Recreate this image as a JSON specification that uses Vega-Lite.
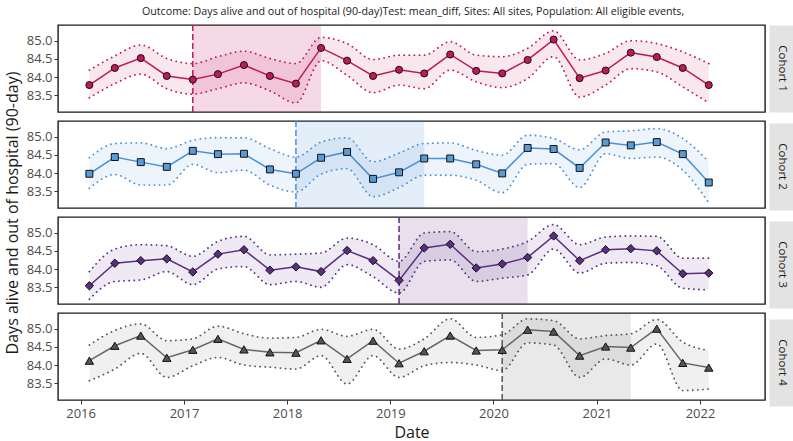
{
  "$schema": "https://vega.github.io/schema/vega-lite/v6.json",
  "padding": {"left": 3, "top": 5, "right": 0, "bottom": 0},
  "background": "white",
  "title": {
    "text": "Outcome: Days alive and out of hospital (90-day)Test: mean_diff, Sites: All sites, Population: All eligible events,",
    "anchor": "middle",
    "dx": 14,
    "fontSize": 10.7,
    "fontWeight": "normal",
    "color": "#1a1a1a",
    "offset": 6
  },
  "datasets": {
    "series": [
      {"cohort": "Cohort 1", "date": "2016-02-01", "est": 83.78, "lo": 83.43, "hi": 84.19},
      {"cohort": "Cohort 1", "date": "2016-05-01", "est": 84.25, "lo": 83.82, "hi": 84.58},
      {"cohort": "Cohort 1", "date": "2016-08-01", "est": 84.52, "lo": 84.08, "hi": 84.88},
      {"cohort": "Cohort 1", "date": "2016-11-01", "est": 84.03, "lo": 83.68, "hi": 84.51},
      {"cohort": "Cohort 1", "date": "2017-02-01", "est": 83.93, "lo": 83.53, "hi": 84.37},
      {"cohort": "Cohort 1", "date": "2017-05-01", "est": 84.08, "lo": 83.68, "hi": 84.56},
      {"cohort": "Cohort 1", "date": "2017-08-01", "est": 84.33, "lo": 83.84, "hi": 84.71},
      {"cohort": "Cohort 1", "date": "2017-11-01", "est": 84.03, "lo": 83.62, "hi": 84.51},
      {"cohort": "Cohort 1", "date": "2018-02-01", "est": 83.82, "lo": 83.29, "hi": 84.37},
      {"cohort": "Cohort 1", "date": "2018-05-01", "est": 84.80, "lo": 84.45, "hi": 85.09},
      {"cohort": "Cohort 1", "date": "2018-08-01", "est": 84.45, "lo": 84.05, "hi": 84.92},
      {"cohort": "Cohort 1", "date": "2018-11-01", "est": 84.03, "lo": 83.57, "hi": 84.48},
      {"cohort": "Cohort 1", "date": "2019-02-01", "est": 84.20, "lo": 83.78, "hi": 84.60},
      {"cohort": "Cohort 1", "date": "2019-05-01", "est": 84.10, "lo": 83.68, "hi": 84.60},
      {"cohort": "Cohort 1", "date": "2019-08-01", "est": 84.62, "lo": 84.19, "hi": 84.97},
      {"cohort": "Cohort 1", "date": "2019-11-01", "est": 84.17, "lo": 83.87, "hi": 84.60},
      {"cohort": "Cohort 1", "date": "2020-02-01", "est": 84.10, "lo": 83.71, "hi": 84.56},
      {"cohort": "Cohort 1", "date": "2020-05-01", "est": 84.47, "lo": 83.96, "hi": 84.79},
      {"cohort": "Cohort 1", "date": "2020-08-01", "est": 85.03, "lo": 84.56, "hi": 85.27},
      {"cohort": "Cohort 1", "date": "2020-11-01", "est": 83.97, "lo": 83.45, "hi": 84.47},
      {"cohort": "Cohort 1", "date": "2021-02-01", "est": 84.18, "lo": 83.78, "hi": 84.65},
      {"cohort": "Cohort 1", "date": "2021-05-01", "est": 84.67, "lo": 84.23, "hi": 85.00},
      {"cohort": "Cohort 1", "date": "2021-08-01", "est": 84.55, "lo": 84.14, "hi": 84.92},
      {"cohort": "Cohort 1", "date": "2021-11-01", "est": 84.25, "lo": 83.73, "hi": 84.69},
      {"cohort": "Cohort 1", "date": "2022-02-01", "est": 83.78, "lo": 83.29, "hi": 84.37},
      {"cohort": "Cohort 2", "date": "2016-02-01", "est": 83.98, "lo": 83.58, "hi": 84.42},
      {"cohort": "Cohort 2", "date": "2016-05-01", "est": 84.44, "lo": 83.96, "hi": 84.81},
      {"cohort": "Cohort 2", "date": "2016-08-01", "est": 84.30, "lo": 83.67, "hi": 84.83},
      {"cohort": "Cohort 2", "date": "2016-11-01", "est": 84.17, "lo": 83.67, "hi": 84.67},
      {"cohort": "Cohort 2", "date": "2017-02-01", "est": 84.61, "lo": 84.24, "hi": 84.90},
      {"cohort": "Cohort 2", "date": "2017-05-01", "est": 84.52, "lo": 84.01, "hi": 84.97},
      {"cohort": "Cohort 2", "date": "2017-08-01", "est": 84.53, "lo": 84.08, "hi": 84.97},
      {"cohort": "Cohort 2", "date": "2017-11-01", "est": 84.10, "lo": 83.67, "hi": 84.67},
      {"cohort": "Cohort 2", "date": "2018-02-01", "est": 83.98, "lo": 83.48, "hi": 84.44},
      {"cohort": "Cohort 2", "date": "2018-05-01", "est": 84.42, "lo": 83.97, "hi": 84.85},
      {"cohort": "Cohort 2", "date": "2018-08-01", "est": 84.58, "lo": 84.12, "hi": 84.97},
      {"cohort": "Cohort 2", "date": "2018-11-01", "est": 83.84, "lo": 83.35, "hi": 84.31},
      {"cohort": "Cohort 2", "date": "2019-02-01", "est": 84.02, "lo": 83.60, "hi": 84.55},
      {"cohort": "Cohort 2", "date": "2019-05-01", "est": 84.40, "lo": 83.94, "hi": 84.81},
      {"cohort": "Cohort 2", "date": "2019-08-01", "est": 84.40, "lo": 83.94, "hi": 84.83},
      {"cohort": "Cohort 2", "date": "2019-11-01", "est": 84.24, "lo": 83.80, "hi": 84.62},
      {"cohort": "Cohort 2", "date": "2020-02-01", "est": 83.99, "lo": 83.46, "hi": 84.49},
      {"cohort": "Cohort 2", "date": "2020-05-01", "est": 84.69, "lo": 84.24, "hi": 85.04},
      {"cohort": "Cohort 2", "date": "2020-08-01", "est": 84.66, "lo": 84.26, "hi": 84.95},
      {"cohort": "Cohort 2", "date": "2020-11-01", "est": 84.14, "lo": 83.60, "hi": 84.64},
      {"cohort": "Cohort 2", "date": "2021-02-01", "est": 84.84, "lo": 84.53, "hi": 85.13},
      {"cohort": "Cohort 2", "date": "2021-05-01", "est": 84.76, "lo": 84.40, "hi": 85.16},
      {"cohort": "Cohort 2", "date": "2021-08-01", "est": 84.85, "lo": 84.44, "hi": 85.22},
      {"cohort": "Cohort 2", "date": "2021-11-01", "est": 84.52, "lo": 84.08, "hi": 84.95},
      {"cohort": "Cohort 2", "date": "2022-02-01", "est": 83.74, "lo": 83.18, "hi": 84.31},
      {"cohort": "Cohort 3", "date": "2016-02-01", "est": 83.54, "lo": 83.17, "hi": 83.93},
      {"cohort": "Cohort 3", "date": "2016-05-01", "est": 84.16, "lo": 83.66, "hi": 84.55},
      {"cohort": "Cohort 3", "date": "2016-08-01", "est": 84.23, "lo": 83.70, "hi": 84.67},
      {"cohort": "Cohort 3", "date": "2016-11-01", "est": 84.28, "lo": 83.93, "hi": 84.64},
      {"cohort": "Cohort 3", "date": "2017-02-01", "est": 83.92, "lo": 83.57, "hi": 84.35},
      {"cohort": "Cohort 3", "date": "2017-05-01", "est": 84.41, "lo": 84.00, "hi": 84.76},
      {"cohort": "Cohort 3", "date": "2017-08-01", "est": 84.53, "lo": 84.07, "hi": 84.90},
      {"cohort": "Cohort 3", "date": "2017-11-01", "est": 83.97, "lo": 83.57, "hi": 84.39},
      {"cohort": "Cohort 3", "date": "2018-02-01", "est": 84.06, "lo": 83.66, "hi": 84.41},
      {"cohort": "Cohort 3", "date": "2018-05-01", "est": 83.93, "lo": 83.50, "hi": 84.44},
      {"cohort": "Cohort 3", "date": "2018-08-01", "est": 84.51, "lo": 84.12, "hi": 84.85},
      {"cohort": "Cohort 3", "date": "2018-11-01", "est": 84.23, "lo": 83.79, "hi": 84.67},
      {"cohort": "Cohort 3", "date": "2019-02-01", "est": 83.69, "lo": 83.34, "hi": 84.21},
      {"cohort": "Cohort 3", "date": "2019-05-01", "est": 84.58, "lo": 84.21, "hi": 84.99},
      {"cohort": "Cohort 3", "date": "2019-08-01", "est": 84.68, "lo": 84.25, "hi": 85.03},
      {"cohort": "Cohort 3", "date": "2019-11-01", "est": 84.03, "lo": 83.66, "hi": 84.48},
      {"cohort": "Cohort 3", "date": "2020-02-01", "est": 84.14, "lo": 83.75, "hi": 84.55},
      {"cohort": "Cohort 3", "date": "2020-05-01", "est": 84.32, "lo": 83.84, "hi": 84.76},
      {"cohort": "Cohort 3", "date": "2020-08-01", "est": 84.91, "lo": 84.55, "hi": 85.22},
      {"cohort": "Cohort 3", "date": "2020-11-01", "est": 84.23, "lo": 83.89, "hi": 84.67},
      {"cohort": "Cohort 3", "date": "2021-02-01", "est": 84.53, "lo": 84.16, "hi": 84.88},
      {"cohort": "Cohort 3", "date": "2021-05-01", "est": 84.56, "lo": 84.18, "hi": 84.91},
      {"cohort": "Cohort 3", "date": "2021-08-01", "est": 84.50, "lo": 84.09, "hi": 84.90},
      {"cohort": "Cohort 3", "date": "2021-11-01", "est": 83.87, "lo": 83.47, "hi": 84.30},
      {"cohort": "Cohort 3", "date": "2022-02-01", "est": 83.89, "lo": 83.43, "hi": 84.30},
      {"cohort": "Cohort 4", "date": "2016-02-01", "est": 84.12, "lo": 83.57, "hi": 84.55},
      {"cohort": "Cohort 4", "date": "2016-05-01", "est": 84.53, "lo": 83.89, "hi": 84.95},
      {"cohort": "Cohort 4", "date": "2016-08-01", "est": 84.81, "lo": 84.32, "hi": 85.13},
      {"cohort": "Cohort 4", "date": "2016-11-01", "est": 84.20, "lo": 83.66, "hi": 84.67},
      {"cohort": "Cohort 4", "date": "2017-02-01", "est": 84.42, "lo": 83.98, "hi": 84.72},
      {"cohort": "Cohort 4", "date": "2017-05-01", "est": 84.72, "lo": 84.21, "hi": 85.07},
      {"cohort": "Cohort 4", "date": "2017-08-01", "est": 84.43, "lo": 84.00, "hi": 84.86},
      {"cohort": "Cohort 4", "date": "2017-11-01", "est": 84.35, "lo": 83.94, "hi": 84.74},
      {"cohort": "Cohort 4", "date": "2018-02-01", "est": 84.34, "lo": 83.89, "hi": 84.76},
      {"cohort": "Cohort 4", "date": "2018-05-01", "est": 84.68, "lo": 84.26, "hi": 84.98},
      {"cohort": "Cohort 4", "date": "2018-08-01", "est": 84.17, "lo": 83.48, "hi": 84.79},
      {"cohort": "Cohort 4", "date": "2018-11-01", "est": 84.67, "lo": 84.26, "hi": 84.98},
      {"cohort": "Cohort 4", "date": "2019-02-01", "est": 84.05, "lo": 83.66, "hi": 84.44},
      {"cohort": "Cohort 4", "date": "2019-05-01", "est": 84.38, "lo": 83.98, "hi": 84.72},
      {"cohort": "Cohort 4", "date": "2019-08-01", "est": 84.81, "lo": 84.07, "hi": 85.27},
      {"cohort": "Cohort 4", "date": "2019-11-01", "est": 84.40, "lo": 84.00, "hi": 84.76},
      {"cohort": "Cohort 4", "date": "2020-02-01", "est": 84.42, "lo": 83.85, "hi": 84.83},
      {"cohort": "Cohort 4", "date": "2020-05-01", "est": 84.97, "lo": 84.61, "hi": 85.27},
      {"cohort": "Cohort 4", "date": "2020-08-01", "est": 84.92, "lo": 84.55, "hi": 85.22},
      {"cohort": "Cohort 4", "date": "2020-11-01", "est": 84.26, "lo": 83.66, "hi": 84.72},
      {"cohort": "Cohort 4", "date": "2021-02-01", "est": 84.51, "lo": 84.17, "hi": 84.81},
      {"cohort": "Cohort 4", "date": "2021-05-01", "est": 84.48, "lo": 84.00, "hi": 84.86},
      {"cohort": "Cohort 4", "date": "2021-08-01", "est": 85.00, "lo": 84.58, "hi": 85.25},
      {"cohort": "Cohort 4", "date": "2021-11-01", "est": 84.06, "lo": 83.30, "hi": 84.63},
      {"cohort": "Cohort 4", "date": "2022-02-01", "est": 83.93, "lo": 83.34, "hi": 84.40}
    ],
    "periods": [
      {"cohort": "Cohort 1", "start": "2017-02-01", "end": "2018-05-01"},
      {"cohort": "Cohort 2", "start": "2018-02-01", "end": "2019-05-01"},
      {"cohort": "Cohort 3", "start": "2019-02-01", "end": "2020-05-01"},
      {"cohort": "Cohort 4", "start": "2020-02-01", "end": "2021-05-01"}
    ]
  },
  "hconcat": [
    {
      "vconcat": [
        {
          "width": 707, "height": 87,
          "data": {"name": "series"},
          "transform": [{"filter": "datum.cohort === 'Cohort 1'"}],
          "encoding": {
            "x": {"field": "date", "type": "temporal", "axis": null,
                  "scale": {"domain": [{"year": 2015, "month": 10, "date": 13}, {"year": 2022, "month": 8, "date": 19}], "nice": false}}
          },
          "layer": [
            {"data": {"name": "periods"}, "transform": [{"filter": "datum.cohort === 'Cohort 1'"}],
             "mark": {"type": "rect", "color": "#c2185b", "opacity": 0.16},
             "encoding": {"x": {"field": "start", "type": "temporal"}, "x2": {"field": "end"}}},
            {"mark": {"type": "area", "color": "#c2185b", "opacity": 0.1, "interpolate": "monotone"},
             "encoding": {
               "y": {"field": "lo", "type": "quantitative", "scale": {"domain": [83.04, 85.43], "nice": false, "zero": false},
                     "axis": {"values": [83.5, 84, 84.5, 85], "tickCount": 10, "format": ".1f", "labelOverlap": false, "title": null}},
               "y2": {"field": "hi"}}},
            {"mark": {"type": "line", "color": "#c2185b", "strokeWidth": 1.8, "strokeDash": [0.1, 5], "strokeCap": "round", "interpolate": "monotone"},
             "encoding": {"y": {"field": "hi", "type": "quantitative"}}},
            {"mark": {"type": "line", "color": "#c2185b", "strokeWidth": 1.8, "strokeDash": [0.1, 5], "strokeCap": "round", "interpolate": "monotone"},
             "encoding": {"y": {"field": "lo", "type": "quantitative"}}},
            {"data": {"name": "periods"}, "transform": [{"filter": "datum.cohort === 'Cohort 1'"}],
             "mark": {"type": "rule", "color": "#c2185b", "strokeWidth": 1.5, "strokeDash": [6, 3]},
             "encoding": {"x": {"field": "start", "type": "temporal"}}},
            {"mark": {"type": "line", "color": "#c2185b", "strokeWidth": 1.5},
             "encoding": {"y": {"field": "est", "type": "quantitative"}}},
            {"mark": {"type": "point", "shape": "circle", "filled": true, "size": 50, "fill": "#c2185b", "stroke": "#111111", "strokeWidth": 1, "opacity": 1},
             "encoding": {"y": {"field": "est", "type": "quantitative"}}}
          ]
        },
        {
          "width": 707, "height": 87,
          "data": {"name": "series"},
          "transform": [{"filter": "datum.cohort === 'Cohort 2'"}],
          "encoding": {
            "x": {"field": "date", "type": "temporal", "axis": null,
                  "scale": {"domain": [{"year": 2015, "month": 10, "date": 13}, {"year": 2022, "month": 8, "date": 19}], "nice": false}}
          },
          "layer": [
            {"data": {"name": "periods"}, "transform": [{"filter": "datum.cohort === 'Cohort 2'"}],
             "mark": {"type": "rect", "color": "#4a90d9", "opacity": 0.15},
             "encoding": {"x": {"field": "start", "type": "temporal"}, "x2": {"field": "end"}}},
            {"mark": {"type": "area", "color": "#4a90d9", "opacity": 0.1, "interpolate": "monotone"},
             "encoding": {
               "y": {"field": "lo", "type": "quantitative", "scale": {"domain": [83.04, 85.43], "nice": false, "zero": false},
                     "axis": {"values": [83.5, 84, 84.5, 85], "tickCount": 10, "format": ".1f", "labelOverlap": false, "title": "Days alive and out of hospital (90-day)", "titleY": 91.5, "titlePadding": 6}},
               "y2": {"field": "hi"}}},
            {"mark": {"type": "line", "color": "#4a90d9", "strokeWidth": 1.8, "strokeDash": [0.1, 5], "strokeCap": "round", "interpolate": "monotone"},
             "encoding": {"y": {"field": "hi", "type": "quantitative"}}},
            {"mark": {"type": "line", "color": "#4a90d9", "strokeWidth": 1.8, "strokeDash": [0.1, 5], "strokeCap": "round", "interpolate": "monotone"},
             "encoding": {"y": {"field": "lo", "type": "quantitative"}}},
            {"data": {"name": "periods"}, "transform": [{"filter": "datum.cohort === 'Cohort 2'"}],
             "mark": {"type": "rule", "color": "#4a90d9", "strokeWidth": 1.5, "strokeDash": [6, 3]},
             "encoding": {"x": {"field": "start", "type": "temporal"}}},
            {"mark": {"type": "line", "color": "#4a90d9", "strokeWidth": 1.5},
             "encoding": {"y": {"field": "est", "type": "quantitative"}}},
            {"mark": {"type": "point", "shape": "square", "filled": true, "size": 48, "fill": "#5b9bd5", "stroke": "#111111", "strokeWidth": 1, "opacity": 1},
             "encoding": {"y": {"field": "est", "type": "quantitative"}}}
          ]
        },
        {
          "width": 707, "height": 87,
          "data": {"name": "series"},
          "transform": [{"filter": "datum.cohort === 'Cohort 3'"}],
          "encoding": {
            "x": {"field": "date", "type": "temporal", "axis": null,
                  "scale": {"domain": [{"year": 2015, "month": 10, "date": 13}, {"year": 2022, "month": 8, "date": 19}], "nice": false}}
          },
          "layer": [
            {"data": {"name": "periods"}, "transform": [{"filter": "datum.cohort === 'Cohort 3'"}],
             "mark": {"type": "rect", "color": "#5b2c83", "opacity": 0.14},
             "encoding": {"x": {"field": "start", "type": "temporal"}, "x2": {"field": "end"}}},
            {"mark": {"type": "area", "color": "#5b2c83", "opacity": 0.1, "interpolate": "monotone"},
             "encoding": {
               "y": {"field": "lo", "type": "quantitative", "scale": {"domain": [83.04, 85.43], "nice": false, "zero": false},
                     "axis": {"values": [83.5, 84, 84.5, 85], "tickCount": 10, "format": ".1f", "labelOverlap": false, "title": null}},
               "y2": {"field": "hi"}}},
            {"mark": {"type": "line", "color": "#5b2c83", "strokeWidth": 1.8, "strokeDash": [0.1, 5], "strokeCap": "round", "interpolate": "monotone"},
             "encoding": {"y": {"field": "hi", "type": "quantitative"}}},
            {"mark": {"type": "line", "color": "#5b2c83", "strokeWidth": 1.8, "strokeDash": [0.1, 5], "strokeCap": "round", "interpolate": "monotone"},
             "encoding": {"y": {"field": "lo", "type": "quantitative"}}},
            {"data": {"name": "periods"}, "transform": [{"filter": "datum.cohort === 'Cohort 3'"}],
             "mark": {"type": "rule", "color": "#5b2c83", "strokeWidth": 1.5, "strokeDash": [6, 3]},
             "encoding": {"x": {"field": "start", "type": "temporal"}}},
            {"mark": {"type": "line", "color": "#5b2c83", "strokeWidth": 1.5},
             "encoding": {"y": {"field": "est", "type": "quantitative"}}},
            {"mark": {"type": "point", "shape": "diamond", "filled": true, "size": 70, "fill": "#5b2c83", "stroke": "#111111", "strokeWidth": 1, "opacity": 1},
             "encoding": {"y": {"field": "est", "type": "quantitative"}}}
          ]
        },
        {
          "width": 707, "height": 87,
          "data": {"name": "series"},
          "transform": [{"filter": "datum.cohort === 'Cohort 4'"}],
          "encoding": {
            "x": {"field": "date", "type": "temporal",
                  "axis": {"format": "%Y", "tickCount": {"interval": "year", "step": 1}, "title": "Date", "titlePadding": 4, "labelPadding": 3},
                  "scale": {"domain": [{"year": 2015, "month": 10, "date": 13}, {"year": 2022, "month": 8, "date": 19}], "nice": false}}
          },
          "layer": [
            {"data": {"name": "periods"}, "transform": [{"filter": "datum.cohort === 'Cohort 4'"}],
             "mark": {"type": "rect", "color": "#555555", "opacity": 0.13},
             "encoding": {"x": {"field": "start", "type": "temporal"}, "x2": {"field": "end"}}},
            {"mark": {"type": "area", "color": "#555555", "opacity": 0.09, "interpolate": "monotone"},
             "encoding": {
               "y": {"field": "lo", "type": "quantitative", "scale": {"domain": [83.04, 85.43], "nice": false, "zero": false},
                     "axis": {"values": [83.5, 84, 84.5, 85], "tickCount": 10, "format": ".1f", "labelOverlap": false, "title": null}},
               "y2": {"field": "hi"}}},
            {"mark": {"type": "line", "color": "#555555", "strokeWidth": 1.8, "strokeDash": [0.1, 5], "strokeCap": "round", "interpolate": "monotone"},
             "encoding": {"y": {"field": "hi", "type": "quantitative"}}},
            {"mark": {"type": "line", "color": "#555555", "strokeWidth": 1.8, "strokeDash": [0.1, 5], "strokeCap": "round", "interpolate": "monotone"},
             "encoding": {"y": {"field": "lo", "type": "quantitative"}}},
            {"data": {"name": "periods"}, "transform": [{"filter": "datum.cohort === 'Cohort 4'"}],
             "mark": {"type": "rule", "color": "#555555", "strokeWidth": 1.5, "strokeDash": [6, 3]},
             "encoding": {"x": {"field": "start", "type": "temporal"}}},
            {"mark": {"type": "line", "color": "#666666", "strokeWidth": 1.5},
             "encoding": {"y": {"field": "est", "type": "quantitative"}}},
            {"mark": {"type": "point", "shape": "triangle-up", "filled": true, "size": 70, "fill": "#555555", "stroke": "#111111", "strokeWidth": 1, "opacity": 1},
             "encoding": {"y": {"field": "est", "type": "quantitative"}}}
          ]
        }
      ],
      "spacing": 9,
      "bounds": "flush"
    },
    {
      "vconcat": [
        {"width": 25, "height": 87, "data": {"values": [{"label": "Cohort 1"}]}, "view": {"fill": "#e3e3e3", "stroke": "transparent"},
         "mark": {"type": "text", "angle": 90, "fontSize": 11.5, "color": "#1a1a1a"}, "encoding": {"text": {"field": "label"}}},
        {"width": 25, "height": 87, "data": {"values": [{"label": "Cohort 2"}]}, "view": {"fill": "#e3e3e3", "stroke": "transparent"},
         "mark": {"type": "text", "angle": 90, "fontSize": 11.5, "color": "#1a1a1a"}, "encoding": {"text": {"field": "label"}}},
        {"width": 25, "height": 87, "data": {"values": [{"label": "Cohort 3"}]}, "view": {"fill": "#e3e3e3", "stroke": "transparent"},
         "mark": {"type": "text", "angle": 90, "fontSize": 11.5, "color": "#1a1a1a"}, "encoding": {"text": {"field": "label"}}},
        {"width": 25, "height": 87, "data": {"values": [{"label": "Cohort 4"}]}, "view": {"fill": "#e3e3e3", "stroke": "transparent"},
         "mark": {"type": "text", "angle": 90, "fontSize": 11.5, "color": "#1a1a1a"}, "encoding": {"text": {"field": "label"}}}
      ],
      "spacing": 9
    }
  ],
  "spacing": 2,
  "config": {
    "font": "Open Sans",
    "view": {"stroke": "#1a1a1a", "strokeWidth": 1.4},
    "axis": {
      "grid": false,
      "domain": false,
      "tickColor": "#333333",
      "tickSize": 4,
      "labelColor": "#4d4d4d",
      "labelFontSize": 13,
      "labelPadding": 2,
      "labelOverlap": false,
      "titleFontSize": 16,
      "titleFontWeight": "normal",
      "titleColor": "#1a1a1a"
    }
  }
}
